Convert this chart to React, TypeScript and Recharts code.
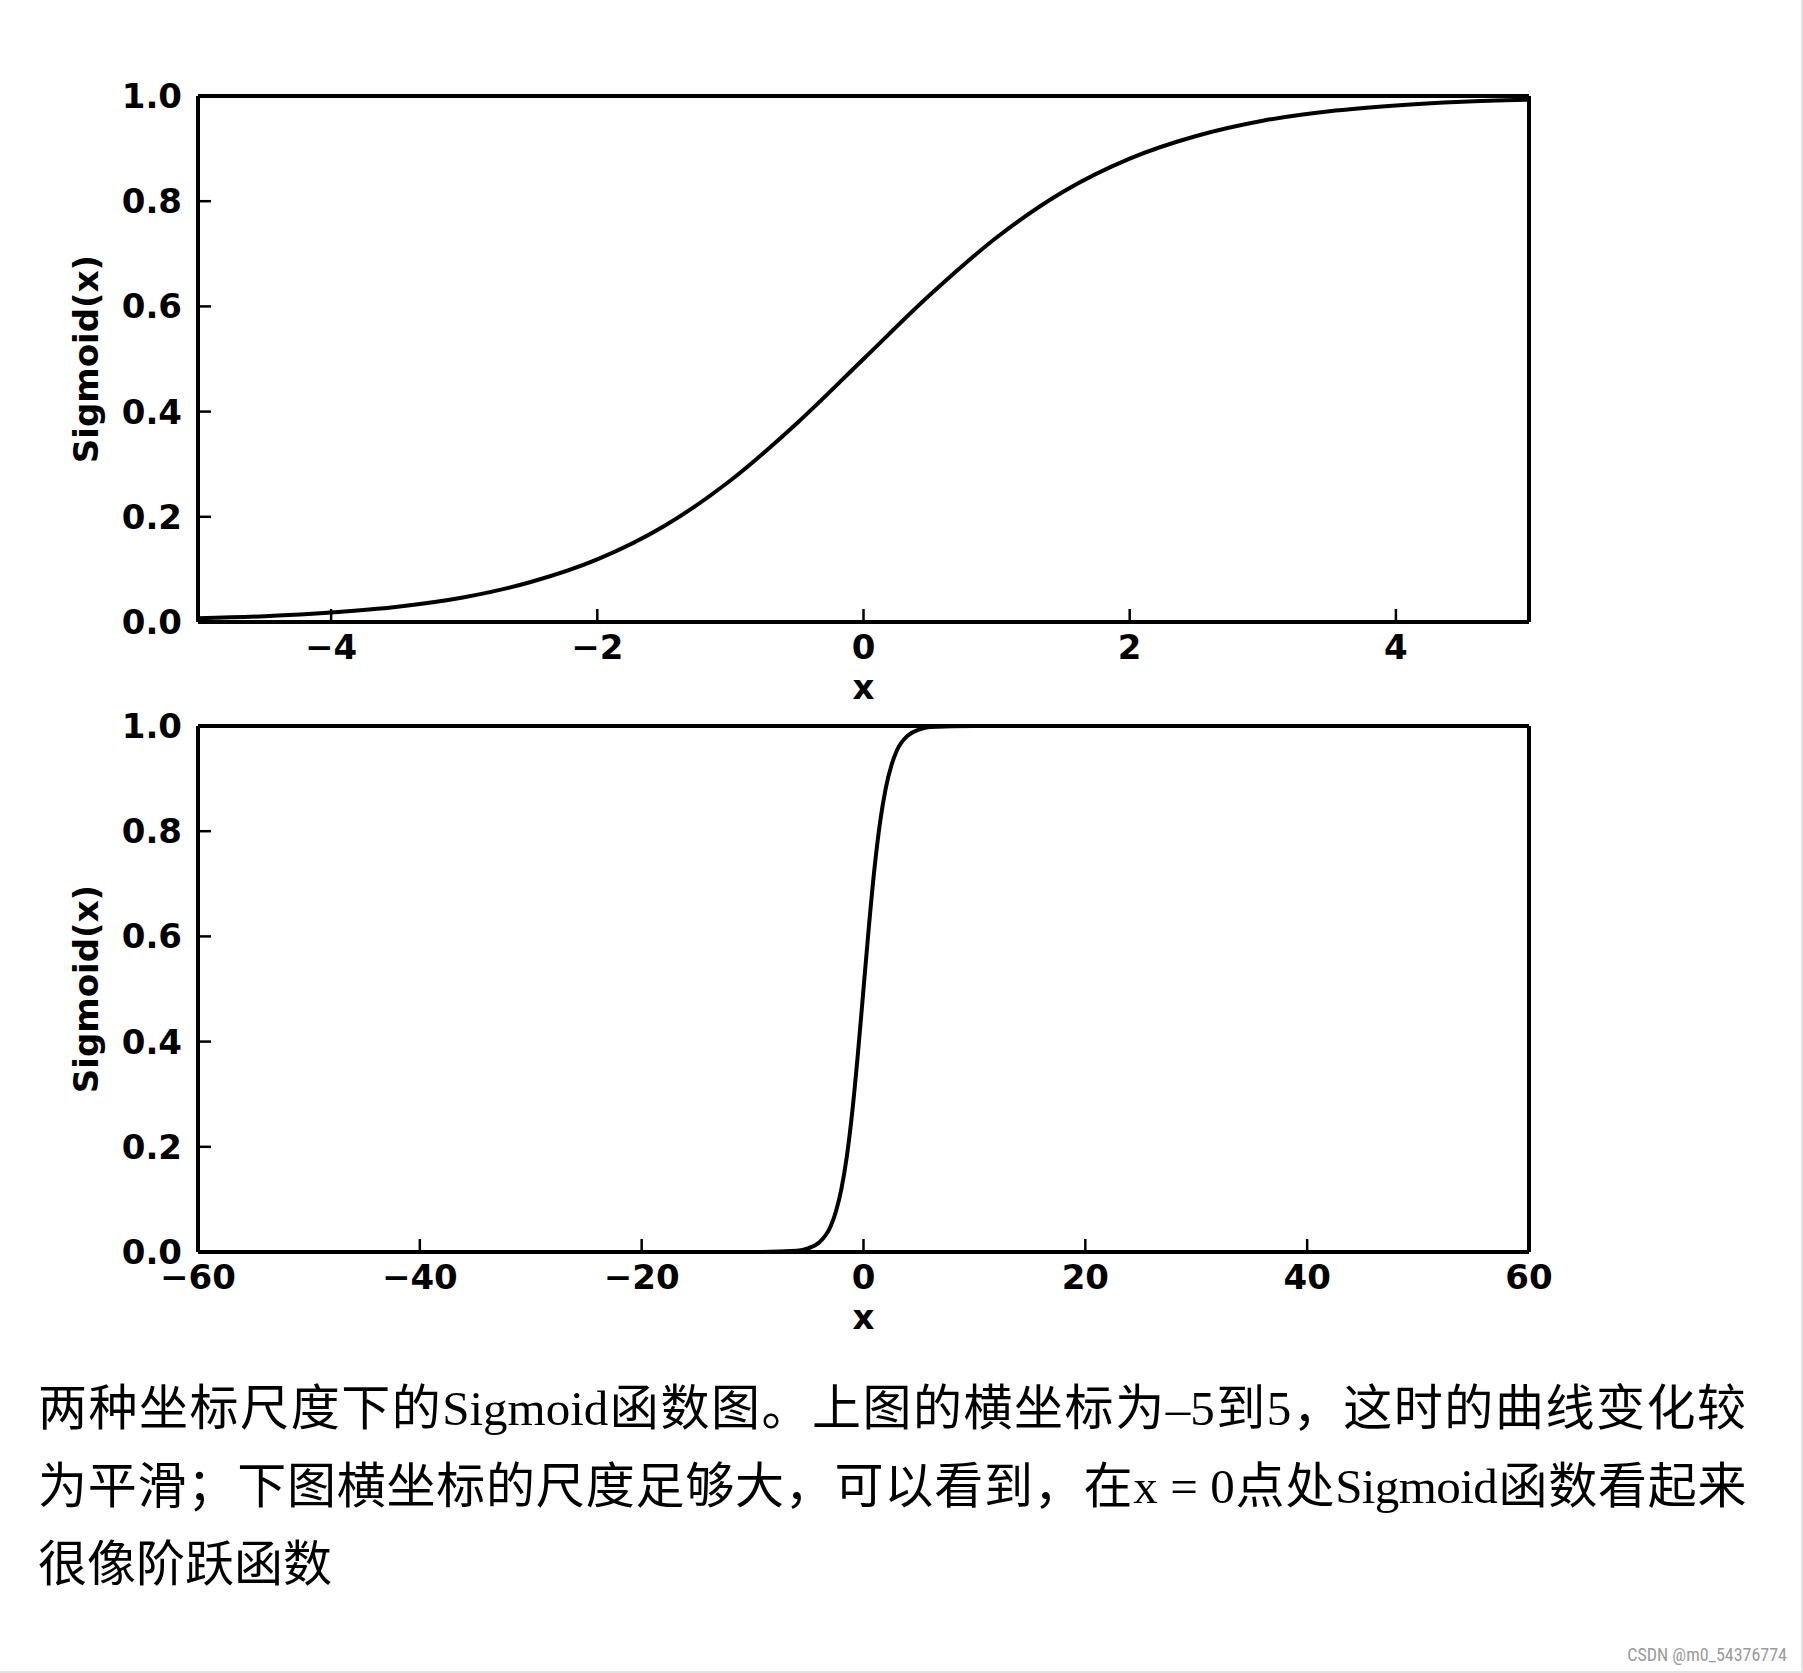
import React from "react"
import { LineChart, Line, XAxis, YAxis } from "recharts"

// top plot: x from -5 to 5
const smallX = [-5, -4.5, -4, -3.5, -3, -2.5, -2, -1.5, -1, -0.5, 0, 0.5, 1, 1.5, 2, 2.5, 3, 3.5, 4, 4.5, 5]
const smallY = [0.007, 0.011, 0.018, 0.029, 0.047, 0.076, 0.119, 0.182, 0.269, 0.378, 0.5, 0.622, 0.731, 0.818, 0.881, 0.924, 0.953, 0.971, 0.982, 0.989, 0.993]

// bottom plot: x from -60 to 60
const wideX = [-60, -50, -40, -30, -20, -10, -6, -5, -4, -3, -2.5, -2, -1.5, -1, -0.5, 0, 0.5, 1, 1.5, 2, 2.5, 3, 4, 5, 6, 10, 20, 30, 40, 50, 60]
const wideY = [0, 0, 0, 0, 0, 0, 0.0025, 0.007, 0.018, 0.047, 0.076, 0.119, 0.182, 0.269, 0.378, 0.5, 0.622, 0.731, 0.818, 0.881, 0.924, 0.953, 0.982, 0.993, 0.998, 1, 1, 1, 1, 1, 1]

const smallTicks = [-4, -2, 0, 2, 4]
const wideTicks = [-60, -40, -20, 0, 20, 40, 60]
const yTicks = [0, 0.2, 0.4, 0.6, 0.8, 1.0]

const yLabel = "Sigmoid(x)"
const xLabel = "x"
const captionLines = [
  "两种坐标尺度下的Sigmoid函数图。上图的横坐标为–5到5，这时的曲线变化较",
  "为平滑；下图横坐标的尺度足够大，可以看到，在x = 0点处Sigmoid函数看起来",
  "很像阶跃函数",
]
const watermark = "CSDN @m0_54376774"

const axisFont = { fill: "#000", fontSize: 34, fontWeight: 600, fontFamily: "DejaVu Sans" }
const fmtX = (v: number) => (v < 0 ? "\u2212" + Math.abs(v) : String(v))

function SigmoidPanel({ xs, ys, domain, ticks }: { xs: number[]; ys: number[]; domain: [number, number]; ticks: number[] }) {
  const data = xs.map((x, i) => ({ x, y: ys[i] }))
  const axisLine = { stroke: "#000", strokeWidth: 4 }
  const tickLine = { stroke: "#000", strokeWidth: 2.5 }
  return (
    <LineChart width={1803} height={720} data={data} margin={{ top: 95, right: 273, bottom: 18, left: 68 }}>
      <XAxis
        xAxisId="b"
        dataKey="x"
        type="number"
        domain={domain}
        ticks={ticks}
        interval={0}
        allowDataOverflow
        height={80}
        tickSize={-13}
        tickMargin={26}
        tickFormatter={fmtX}
        tick={axisFont}
        axisLine={axisLine}
        tickLine={tickLine}
        label={{ value: xLabel, position: "insideBottom", offset: 3, style: { ...axisFont } }}
      />
      <XAxis
        xAxisId="t"
        orientation="top"
        dataKey="x"
        type="number"
        domain={domain}
        ticks={ticks}
        interval={0}
        allowDataOverflow
        height={1}
        tickSize={-13}
        tick={false}
        axisLine={axisLine}
        tickLine={tickLine}
      />
      <YAxis
        yAxisId="l"
        type="number"
        domain={[0, 1]}
        ticks={yTicks}
        interval={0}
        width={130}
        tickSize={-13}
        tickMargin={29}
        tickFormatter={(v: number) => v.toFixed(1)}
        tick={axisFont}
        axisLine={axisLine}
        tickLine={tickLine}
        label={{ value: yLabel, angle: -90, position: "insideLeft", offset: 18, style: { ...axisFont, fontSize: 34, textAnchor: "middle" } }}
      />
      <YAxis
        yAxisId="r"
        orientation="right"
        type="number"
        domain={[0, 1]}
        ticks={yTicks}
        interval={0}
        width={1}
        tickSize={-13}
        tick={false}
        axisLine={axisLine}
        tickLine={tickLine}
      />
      <Line xAxisId="t" yAxisId="r" dataKey="y" type="monotone" stroke="none" dot={false} isAnimationActive={false} />
      <Line xAxisId="b" yAxisId="l" dataKey="y" type="monotone" stroke="#000" strokeWidth={4} dot={false} isAnimationActive={false} />
    </LineChart>
  )
}

export default function App() {
  return (
    <div style={{ position: "absolute", left: 0, top: 0, width: 1803, height: 1673, background: "#fff", overflow: "hidden", boxSizing: "border-box", borderRight: "2px solid #e2e2e2", borderBottom: "2px solid #e2e2e2" }}>
      <div style={{ position: "absolute", left: 0, top: 0 }}>
        <SigmoidPanel xs={smallX} ys={smallY} domain={[-5, 5]} ticks={smallTicks} />
      </div>
      <div style={{ position: "absolute", left: 0, top: 630 }}>
        <SigmoidPanel xs={wideX} ys={wideY} domain={[-60, 60]} ticks={wideTicks} />
      </div>
      <div style={{ position: "absolute", left: 38, top: 1370, width: 1708, fontFamily: "'Liberation Serif', 'Noto Sans CJK SC', serif", fontSize: 49, lineHeight: "78px", color: "#000" }}>
        {captionLines.map((line, i) => (
          <div key={i} style={{ textAlign: i < 2 ? "justify" : "left", textAlignLast: i < 2 ? "justify" : "left", whiteSpace: "nowrap", letterSpacing: i === 1 ? -0.6 : 0 }}>
            {line}
          </div>
        ))}
      </div>
      <div style={{ position: "absolute", right: 14, top: 1644, fontFamily: "'Liberation Sans Narrow', 'Roboto Condensed', 'Roboto', sans-serif", fontSize: 18, color: "#9a9a9a" }}>
        {watermark}
      </div>
    </div>
  )
}
